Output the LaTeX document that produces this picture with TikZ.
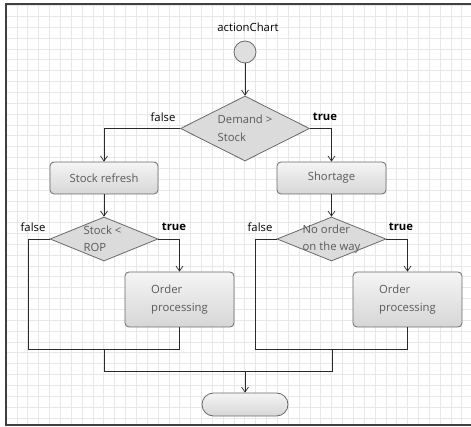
\documentclass[tikz,border=0pt]{standalone}
\usepackage{fontspec}
\setmainfont{Open Sans}
\usetikzlibrary{arrows.meta,shapes.geometric}
\definecolor{edgec}{HTML}{6A6A6A}
\definecolor{txtc}{HTML}{5A5A5A}
\definecolor{linec}{HTML}{2A2A2A}
\begin{document}
\begin{tikzpicture}[x=1pt,y=-1pt,
  font=\fontsize{11.3}{17.5}\selectfont,
  act/.style={draw=edgec,line width=0.8pt,rounded corners=4pt,top color=gray!8,bottom color=gray!32,text=txtc,align=left,inner sep=0pt},
  dec/.style={diamond,draw=edgec,line width=0.8pt,fill=gray!28,inner sep=0pt},
  dtext/.style={text=txtc,align=left,inner sep=0pt},
  lab/.style={text=black,inner sep=0pt},
  conn/.style={draw=linec,line width=0.7pt},
  arr/.style={conn,-{Straight Barb[length=5pt,width=7pt,line width=0.7pt]}}
]
\useasboundingbox (0,0) rectangle (471,427);
\fill[white] (0,0) rectangle (471,427);
% grid
\begin{scope}
\clip (6,5) rectangle (471,424);
\foreach \i in {0,...,43} {
  \draw[gray!18,line width=0.5pt] ({6+10.85*\i},0) -- ({6+10.85*\i},427);
}
\foreach \j in {0,...,39} {
  \draw[gray!18,line width=0.5pt] (0,{5.5+10.85*\j}) -- (471,{5.5+10.85*\j});
}
\end{scope}
% frame
\draw[gray!50!black,line width=2pt] (471,4.5) -- (5.5,4.5) -- (5.5,425) -- (471,425);

% nodes
\node[lab] (title) at (248,27) {actionChart};
\node[circle,draw=edgec,line width=0.8pt,fill=gray!25,minimum size=22pt,inner sep=0pt] (start) at (245,52) {};
\node[dec,minimum width=129pt,minimum height=65pt] (d1) at (245,128.5) {};
\node[dtext] (d1t) at (245,128.5) {Demand >\\Stock};
\node[act,minimum width=108pt,minimum height=32pt] (sr) at (104,178) {Stock refresh};
\node[act,minimum width=109pt,minimum height=32pt] (sh) at (331.5,178) {Shortage};
\node[dec,minimum width=108pt,minimum height=44pt] (d2) at (104,239) {};
\node[dtext] (d2t) at (102.5,239) {Stock <\\ROP};
\node[dec,minimum width=109pt,minimum height=44pt] (d3) at (331.5,239) {};
\node[dtext] (d3t) at (331.5,239) {No order\\on the way};
\node[act,minimum width=109pt,minimum height=55pt] (op1) at (179.5,299.5) {Order\\processing};
\node[act,minimum width=109pt,minimum height=55pt] (op2) at (407.5,299.5) {Order\\processing};
\node[act,rounded corners=11.5pt,minimum width=86pt,minimum height=23pt] (end) at (245,404.5) {};

% labels
\node[lab] (l1f) at (163,117) {false};
\node[lab,font=\fontsize{11.3}{12}\selectfont\bfseries] (l1t) at (325,117) {true};
\node[lab] (l2f) at (33,227) {false};
\node[lab,font=\fontsize{11.3}{12}\selectfont\bfseries] (l2t) at (174,227) {true};
\node[lab] (l3f) at (260,227) {false};
\node[lab,font=\fontsize{11.3}{12}\selectfont\bfseries] (l3t) at (401,227) {true};

% coordinates
\coordinate (f1) at (28,349);
\coordinate (f2) at (255,349);
\coordinate (m1) at (104,349);
\coordinate (m2) at (332,349);
\coordinate (b1) at (104,371);
\coordinate (b2) at (332,371);
\coordinate (bm) at (245,371);

% connectors
\draw[arr] (start) -- (d1.north);
\draw[arr] (d1.west) -| (sr.north);
\draw[arr] (d1.east) -| (sh.north);
\draw[arr] (sr.south) -- (d2.north);
\draw[arr] (sh.south) -- (d3.north);
\draw[arr] (d2.east) -| (op1.north);
\draw[arr] (d3.east) -| (op2.north);
\draw[conn] (d2.west) -| (f1) -- (op1.south |- f1) -- (op1.south);
\draw[conn] (d3.west) -| (f2) -- (op2.south |- f2) -- (op2.south);
\draw[conn] (m1) -- (b1) -- (b2) -- (m2);
\draw[arr] (bm) -- (end.north);
\end{tikzpicture}
\end{document}
